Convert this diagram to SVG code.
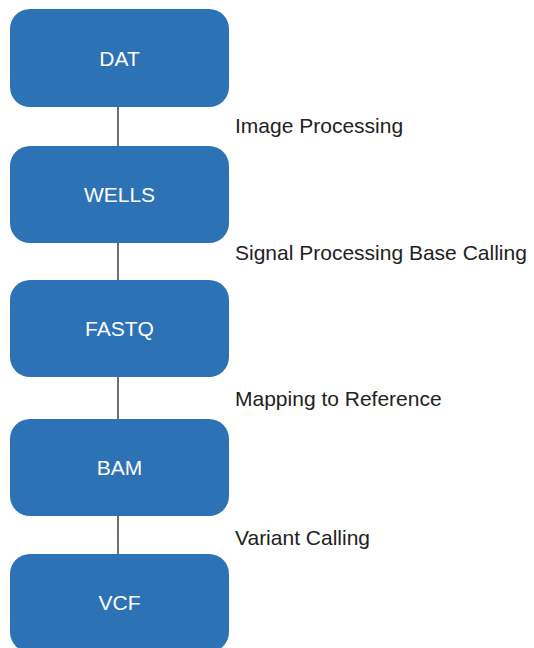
<svg xmlns="http://www.w3.org/2000/svg" width="534" height="648" viewBox="0 0 534 648">
<style>
.box{fill:#2d72b4}
.bl{font-family:"Liberation Sans",Arial,sans-serif;font-size:21px;fill:#ffffff;text-anchor:middle}
.sl{font-family:"Liberation Sans",Arial,sans-serif;font-size:21px;fill:#222222}
.con{stroke:#222222;stroke-width:1.3;fill:none}
</style>
<rect width="534" height="648" fill="#ffffff"/>
<g id="connectors">
<line class="con" x1="118" y1="107" x2="118" y2="146"/>
<line class="con" x1="118" y1="243" x2="118" y2="280"/>
<line class="con" x1="118" y1="377" x2="118" y2="419"/>
<line class="con" x1="118" y1="516" x2="118" y2="554"/>
</g>
<g id="dat"><rect class="box" x="10" y="9" width="219" height="98" rx="20"/><text class="bl" x="119.5" y="66">DAT</text></g>
<g id="wells"><rect class="box" x="10" y="146" width="219" height="97" rx="20"/><text class="bl" x="119.5" y="202">WELLS</text></g>
<g id="fastq"><rect class="box" x="10" y="280" width="219" height="97" rx="20"/><text class="bl" x="119.5" y="336">FASTQ</text></g>
<g id="bam"><rect class="box" x="10" y="419" width="219" height="97" rx="20"/><text class="bl" x="119.5" y="475">BAM</text></g>
<g id="vcf"><rect class="box" x="10" y="554" width="219" height="98" rx="20"/><text class="bl" x="119.5" y="610">VCF</text></g>
<g id="labels">
<text class="sl" x="235" y="133">Image Processing</text>
<text class="sl" x="235" y="260">Signal Processing Base Calling</text>
<text class="sl" x="235" y="406">Mapping to Reference</text>
<text class="sl" x="235" y="545">Variant Calling</text>
</g>
</svg>
